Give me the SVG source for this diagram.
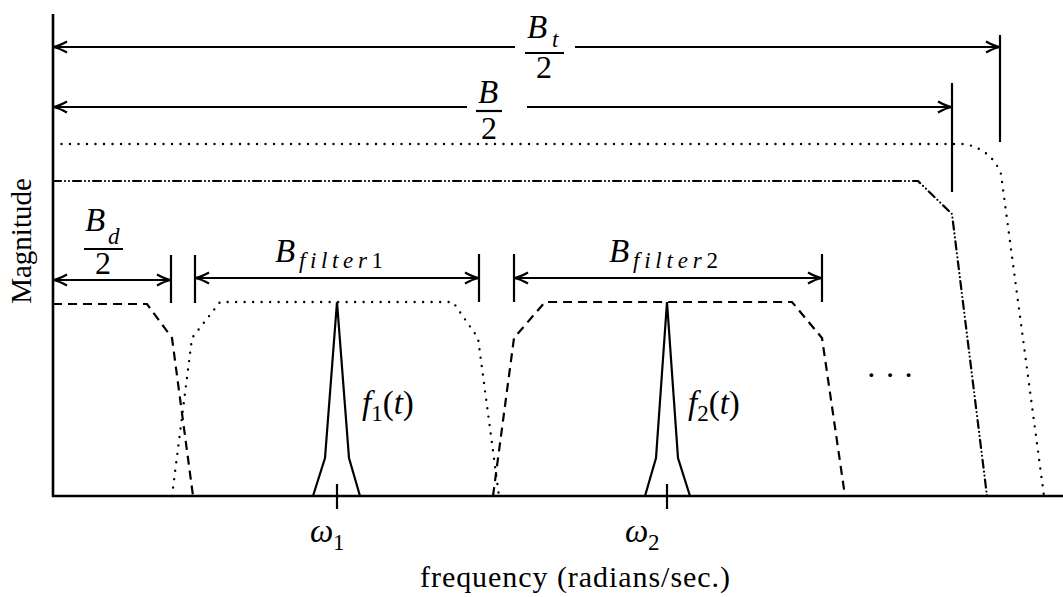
<svg xmlns="http://www.w3.org/2000/svg" width="1063" height="597" viewBox="0 0 1063 597">
<defs>
<marker id="ah" markerUnits="userSpaceOnUse" viewBox="-16 -8 18 16" refX="0" refY="0" markerWidth="18" markerHeight="16" orient="auto-start-reverse">
<path d="M-14,-5.5 Q-6,-1 0,0 Q-6,1 -14,5.5" fill="none" stroke="#000" stroke-width="2.2"/>
</marker>
</defs>
<style>
.ax{fill:none;stroke:#000;stroke-width:2.6}
.ln{fill:none;stroke:#000;stroke-width:2.2}
.dash{fill:none;stroke:#000;stroke-width:2.2;stroke-dasharray:9 6}
.dot{fill:none;stroke:#000;stroke-width:2.4;stroke-dasharray:0 8.5;stroke-linecap:round}
.dd{fill:none;stroke:#000;stroke-width:2.2;stroke-dasharray:8 4 0 4 0 4;stroke-linecap:round}
.arr{fill:none;stroke:#000;stroke-width:2.2}
.tk{fill:none;stroke:#000;stroke-width:2.2}
text{font-family:"Liberation Serif","Times New Roman",serif;fill:#000}
.m{font-style:italic;font-size:33px}
.s{font-style:italic;font-size:23px}
.r{font-size:32px}
.rs{font-size:23px;font-style:normal}
</style>

<g id="axes">
<path class="ax" d="M53,14 V497"/>
<path class="ax" d="M52,496 H1063"/>
<path class="tk" d="M337,484 V509"/>
<path class="tk" d="M667,484 V509"/>
<text x="31" y="241" transform="rotate(-90 31 241)" text-anchor="middle" font-size="29">Magnitude</text>
<text x="420" y="587" font-size="30" textLength="310" lengthAdjust="spacing">frequency (radians/sec.)</text>
</g>

<g id="spectra">
<path id="total-band" class="dot" d="M53,144 H965 Q992,150 1001,174 L1044,496"/>
<path id="band" class="dd" d="M53,181 H918 L952,214 L987,496"/>
<path id="filter0" class="dash" d="M53,304 H147 L172,338 L193,496"/>
<path id="filter1" class="dot" d="M172,496 L192,338 L220,302 H453 L478,338 L499,496"/>
<path id="filter2" class="dash" d="M493,496 L514,338 L545,302 H792 L822,338 L845,496"/>
</g>

<g id="signal1">
<path class="ln" d="M313,496 L325,458 L337,302 L349,458 L360,496"/>
<text x="362" y="414" class="m">f<tspan class="rs" dy="7">1</tspan><tspan font-style="normal" dy="-7">(</tspan><tspan>t</tspan><tspan font-style="normal">)</tspan></text>
<text x="310" y="542" class="m">ω</text><text x="333" y="550" class="rs">1</text>
</g>

<g id="signal2">
<path class="ln" d="M645,496 L656,458 L667,302 L678,458 L690,496"/>
<text x="688" y="414" class="m">f<tspan class="rs" dy="7">2</tspan><tspan font-style="normal" dy="-7">(</tspan><tspan>t</tspan><tspan font-style="normal">)</tspan></text>
<text x="625" y="542" class="m">ω</text><text x="648" y="550" class="rs">2</text>
</g>

<g id="ellipsis">
<text x="866" y="386" class="r">· · ·</text>
</g>

<g id="connectors">
<path class="arr" d="M53,47 H515" marker-start="url(#ah)"/>
<path class="arr" d="M575,47 H1000" marker-end="url(#ah)"/>
<path class="tk" d="M1000,35 V142"/>
<path class="arr" d="M53,107 H467" marker-start="url(#ah)"/>
<path class="arr" d="M527,107 H952" marker-end="url(#ah)"/>
<path class="tk" d="M952,83 V192"/>
<path class="arr" d="M53,280 H171" marker-start="url(#ah)" marker-end="url(#ah)"/>
<path class="tk" d="M171,255 V303"/>
<path class="tk" d="M195,255 V303"/>
<path class="arr" d="M195,278 H479" marker-start="url(#ah)" marker-end="url(#ah)"/>
<path class="tk" d="M479,254 V302"/>
<path class="tk" d="M514,254 V302"/>
<path class="arr" d="M514,278 H822" marker-start="url(#ah)" marker-end="url(#ah)"/>
<path class="tk" d="M822,254 V302"/>
</g>

<g id="label-Bt">
<text x="527" y="38" class="m">B</text><text x="552" y="47" class="s">t</text>
<path class="ln" d="M525,53 H564" stroke-width="1.8"/>
<text x="544" y="78" class="r" text-anchor="middle">2</text>
</g>
<g id="label-B">
<text x="478" y="103" class="m">B</text>
<path class="ln" d="M476,111 H502" stroke-width="1.8"/>
<text x="489" y="139" class="r" text-anchor="middle">2</text>
</g>
<g id="label-Bd">
<text x="85" y="231" class="m">B</text><text x="108" y="244" class="s">d</text>
<path class="ln" d="M84,249 H123" stroke-width="1.8"/>
<text x="103" y="274" class="r" text-anchor="middle">2</text>
</g>
<g id="label-Bfilter1">
<text x="275" y="262" class="m">B</text>
<text x="299" y="268" class="s" textLength="84" lengthAdjust="spacing">filter<tspan font-style="normal">1</tspan></text>
</g>
<g id="label-Bfilter2">
<text x="609" y="262" class="m">B</text>
<text x="633" y="268" class="s" textLength="85" lengthAdjust="spacing">filter<tspan font-style="normal">2</tspan></text>
</g>
</svg>
